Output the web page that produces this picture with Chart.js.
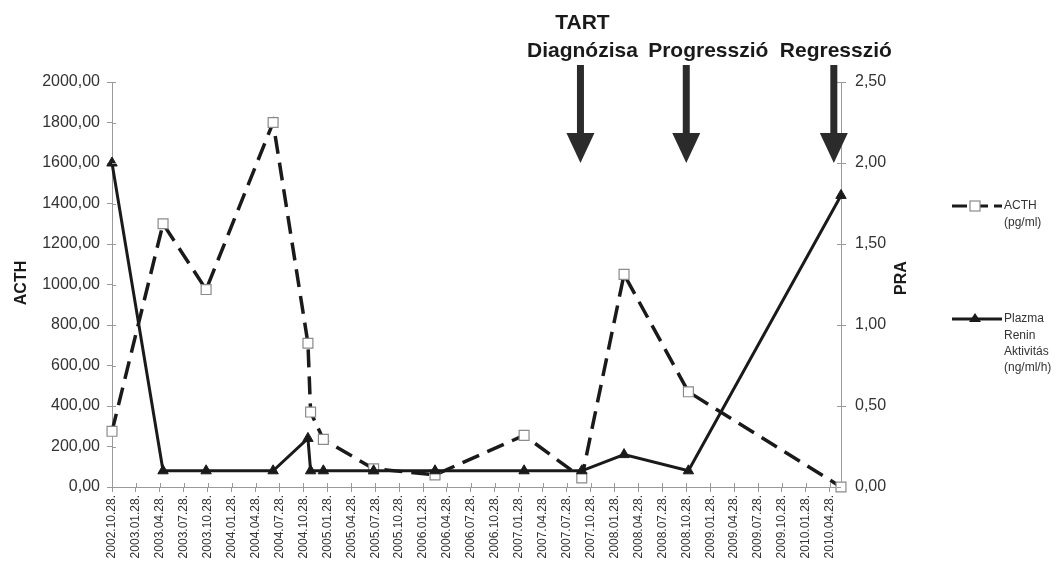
<!DOCTYPE html>
<html>
<head>
<meta charset="utf-8">
<script src="https://cdn.jsdelivr.net/npm/chart.js@4.4.1/dist/chart.umd.min.js"></script>
<style>
  html, body { margin: 0; padding: 0; background: #fff; }
  #wrap { width: 1056px; height: 563px; }
</style>
</head>
<body>
<div id="wrap"><canvas id="chart" width="1056" height="563"></canvas></div>
<script>
// mérési időpontok (év.hó.nap)
const dates = ['2002.10.28', '2003.05.10', '2003.10.22', '2004.07.04', '2004.11.15', '2004.11.25', '2005.01.13',
  '2005.07.22', '2006.03.13', '2007.02.18', '2007.09.25', '2008.03.04', '2008.11.06', '2010.06.10'];
const acth = [275, 1300, 975, 1800, 710, 370, 235, 90, 60, 255, 45, 1050, 470, 0];
const pra = [2.0, 0.1, 0.1, 0.1, 0.3, 0.1, 0.1, 0.1, 0.1, 0.1, 0.1, 0.2, 0.1, 1.8];

const tickLabels = ['2002.10.28.', '2003.01.28.', '2003.04.28.', '2003.07.28.', '2003.10.28.', '2004.01.28.',
  '2004.04.28.', '2004.07.28.', '2004.10.28.', '2005.01.28.', '2005.04.28.', '2005.07.28.', '2005.10.28.',
  '2006.01.28.', '2006.04.28.', '2006.07.28.', '2006.10.28.', '2007.01.28.', '2007.04.28.', '2007.07.28.',
  '2007.10.28.', '2008.01.28.', '2008.04.28.', '2008.07.28.', '2008.10.28.', '2009.01.28.', '2009.04.28.',
  '2009.07.28.', '2009.10.28.', '2010.01.28.', '2010.04.28.'];

// események a felső nyilakhoz
const eventDates = ['2007.09.20', '2008.10.28', '2010.05.13'];
const eventLabels = [['TART', 'Diagnózisa'], ['Progresszió'], ['Regresszió']];

// hónapok 2002.10.28 óta
function toMonths(d) {
  const [y, m, day] = d.split('.').map(Number);
  return (y - 2002) * 12 + (m - 10) + (day - 28) / 30;
}

const fmt = v => v.toFixed(2).replace('.', ',');
const axisGray = '#9a9a9a';
const textGray = '#333';

const extras = {
  id: 'extras',
  afterDraw(chart) {
    const ctx = chart.ctx;
    const { x, y, y1 } = chart.scales;
    const area = chart.chartArea;
    ctx.save();

    // belső tick jelek (kereszt alakú)
    ctx.strokeStyle = axisGray;
    ctx.lineWidth = 1;
    ctx.beginPath();
    x.ticks.forEach(t => {
      const px = Math.round(x.getPixelForValue(t.value)) + 0.5;
      ctx.moveTo(px, area.bottom);
      ctx.lineTo(px, area.bottom - 4);
    });
    y.ticks.forEach(t => {
      const py = Math.round(y.getPixelForValue(t.value)) + 0.5;
      ctx.moveTo(area.left, py);
      ctx.lineTo(area.left + 4, py);
    });
    y1.ticks.forEach(t => {
      const py = Math.round(y1.getPixelForValue(t.value)) + 0.5;
      ctx.moveTo(area.right, py);
      ctx.lineTo(area.right - 4, py);
    });
    ctx.stroke();

    // tengelycímek
    ctx.fillStyle = '#1a1a1a';
    ctx.font = 'bold 16px "Liberation Sans", Arial, sans-serif';
    ctx.textAlign = 'center';
    ctx.textBaseline = 'middle';
    [['ACTH', 22, 283], ['PRA', 902, 278]].forEach(([txt, tx, ty]) => {
      ctx.save();
      ctx.translate(tx, ty);
      ctx.rotate(-Math.PI / 2);
      ctx.fillText(txt, 0, 0);
      ctx.restore();
    });

    // nyilak és feliratok
    const textShift = [2, 22, 2];
    eventDates.forEach((d, i) => {
      const ax = x.getPixelForValue(toMonths(d));
      ctx.fillStyle = '#2b2b2b';
      ctx.fillRect(ax - 3.5, 65, 7, 70);
      ctx.beginPath();
      ctx.moveTo(ax - 14, 133);
      ctx.lineTo(ax + 14, 133);
      ctx.lineTo(ax, 163);
      ctx.closePath();
      ctx.fill();

      ctx.fillStyle = '#1a1a1a';
      ctx.font = 'bold 21px "Liberation Sans", Arial, sans-serif';
      const lines = eventLabels[i];
      lines.forEach((ln, k) => {
        ctx.fillText(ln, ax + textShift[i], 51 - (lines.length - 1 - k) * 28);
      });
    });

    // jelmagyarázat
    const lx0 = 952, lx1 = 1002, mx = 975;
    ctx.strokeStyle = '#1a1a1a';
    ctx.lineWidth = 3;
    ctx.setLineDash([15, 6]);
    ctx.beginPath();
    ctx.moveTo(lx0, 206);
    ctx.lineTo(lx1, 206);
    ctx.stroke();
    ctx.setLineDash([]);
    ctx.fillStyle = '#fff';
    ctx.strokeStyle = '#8a8a8a';
    ctx.lineWidth = 1.2;
    ctx.fillRect(mx - 5, 201, 10, 10);
    ctx.strokeRect(mx - 5, 201, 10, 10);

    ctx.strokeStyle = '#1a1a1a';
    ctx.lineWidth = 3;
    ctx.beginPath();
    ctx.moveTo(lx0, 319);
    ctx.lineTo(lx1, 319);
    ctx.stroke();
    ctx.fillStyle = '#1a1a1a';
    ctx.beginPath();
    ctx.moveTo(mx, 313);
    ctx.lineTo(mx + 6, 322);
    ctx.lineTo(mx - 6, 322);
    ctx.closePath();
    ctx.fill();

    ctx.fillStyle = textGray;
    ctx.font = '12px "Liberation Sans", Arial, sans-serif';
    ctx.textAlign = 'left';
    [['ACTH', 206], ['(pg/ml)', 223], ['Plazma', 319], ['Renin', 336], ['Aktivitás', 352], ['(ng/ml/h)', 368]]
      .forEach(([txt, ty]) => ctx.fillText(txt, 1004, ty));

    ctx.restore();
  }
};

new Chart(document.getElementById('chart'), {
  type: 'line',
  data: {
    datasets: [{
      label: 'ACTH (pg/ml)',
      data: dates.map((d, i) => ({ x: toMonths(d), y: acth[i] })),
      yAxisID: 'y',
      borderColor: '#1a1a1a',
      borderWidth: 3.5,
      borderDash: [18, 9],
      pointStyle: 'rect',
      pointRadius: 7,
      pointBackgroundColor: '#fff',
      pointBorderColor: '#8a8a8a',
      pointBorderWidth: 1.2,
      tension: 0,
      clip: false,
      order: 2
    }, {
      label: 'Plazma Renin Aktivitás (ng/ml/h)',
      data: dates.map((d, i) => ({ x: toMonths(d), y: pra[i] })),
      yAxisID: 'y1',
      borderColor: '#1a1a1a',
      borderWidth: 3,
      pointStyle: 'triangle',
      pointRadius: 6,
      pointBackgroundColor: '#1a1a1a',
      pointBorderColor: '#1a1a1a',
      pointBorderWidth: 1,
      tension: 0,
      clip: false,
      order: 1
    }]
  },
  options: {
    responsive: false,
    animation: false,
    devicePixelRatio: 1,
    layout: { padding: { left: 0, right: 100, top: 82, bottom: 0 } },
    plugins: { legend: { display: false }, tooltip: { enabled: false } },
    scales: {
      x: {
        type: 'linear',
        min: 0,
        max: toMonths(dates[dates.length - 1]),
        ticks: {
          stepSize: 3,
          includeBounds: false,
          autoSkip: false,
          minRotation: 90,
          maxRotation: 90,
          padding: 3,
          color: textGray,
          font: { size: 12, family: '"Liberation Sans", Arial, sans-serif' },
          callback: v => tickLabels[Math.round(v / 3)]
        },
        grid: { drawOnChartArea: false, color: axisGray, tickLength: 5 },
        border: { color: axisGray },
        afterFit: s => { s.height = 76; }
      },
      y: {
        position: 'left',
        min: 0,
        max: 2000,
        ticks: {
          stepSize: 200,
          padding: 7,
          color: textGray,
          font: { size: 16, family: '"Liberation Sans", Arial, sans-serif' },
          callback: fmt
        },
        grid: { drawOnChartArea: false, color: axisGray, tickLength: 5 },
        border: { color: axisGray },
        afterFit: s => { s.width = 112; }
      },
      y1: {
        position: 'right',
        min: 0,
        max: 2.5,
        ticks: {
          stepSize: 0.5,
          padding: 9,
          color: textGray,
          font: { size: 16, family: '"Liberation Sans", Arial, sans-serif' },
          callback: fmt
        },
        grid: { drawOnChartArea: false, color: axisGray, tickLength: 5 },
        border: { color: axisGray },
        afterFit: s => { s.width = 115; }
      }
    }
  },
  plugins: [extras]
});
</script>
</body>
</html>
